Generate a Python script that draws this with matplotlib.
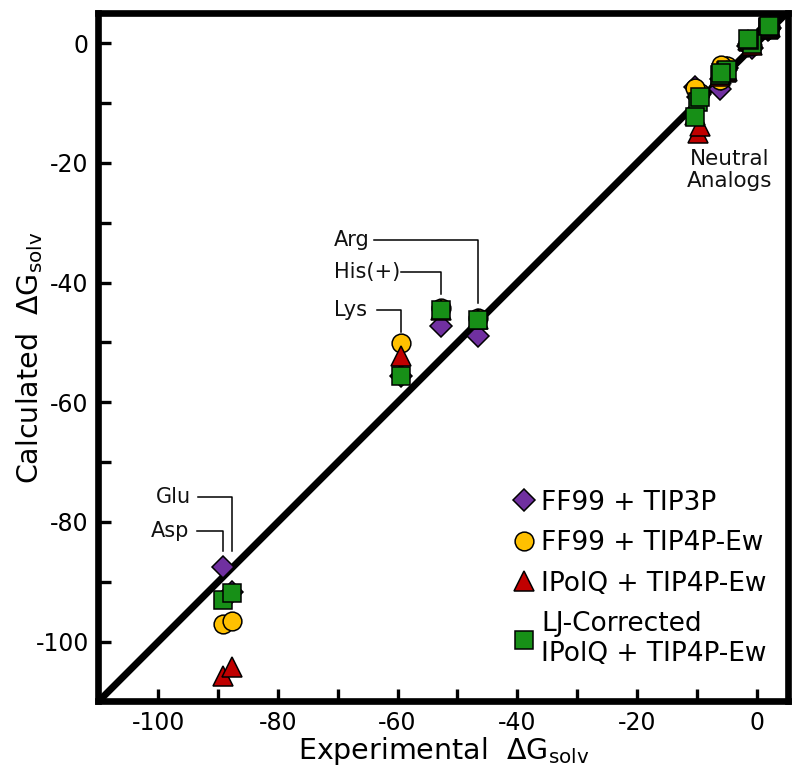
import matplotlib
matplotlib.use('Agg')
import matplotlib.pyplot as plt
from matplotlib.ticker import MultipleLocator, FuncFormatter
from matplotlib.lines import Line2D

plt.rcParams['font.family'] = ['DejaVu Sans']
plt.rcParams['axes.unicode_minus'] = False

# side-chain analogs, experimental vs calculated solvation free energies
residues = ['Ala', 'Val', 'Leu', 'Ile', 'Phe', 'Cys', 'Met', 'Ser', 'Thr', 'Tyr',
            'Trp', 'Asn', 'Gln', 'His', 'Asp', 'Glu', 'Lys', 'His(+)', 'Arg']
experimental = [1.94, 1.99, 2.28, 2.15, -0.76, -1.24, -1.48, -5.06, -4.88, -6.11,
                -5.88, -9.72, -9.38, -10.27, -89.2, -87.7, -59.5, -52.7, -46.5]
ff99_tip3p = [2.2, 2.3, 2.5, 2.4, -0.8, -0.2, -0.5, -4.4, -4.2, -7.6,
              -6.0, -9.0, -8.5, -7.3, -87.6, -91.7, -55.6, -47.3, -49.0]
ff99_tip4pew = [2.4, 2.5, 2.7, 2.6, -0.5, 0.3, 0.1, -4.0, -3.8, -6.2,
                -3.6, -8.8, -8.3, -7.5, -97.0, -96.5, -50.1, -44.3, -46.0]
ipolq_tip4pew = [2.4, 2.5, 2.7, 2.6, -0.3, 0.3, 0.5, -4.8, -4.6, -5.5,
                 -5.2, -15.0, -13.9, -12.0, -105.8, -104.3, -52.3, -44.6, -46.1]
ljcorr_ipolq = [2.6, 2.7, 2.9, 2.8, -0.2, 0.5, 0.7, -4.6, -4.5, -5.3,
                -5.0, -9.8, -9.0, -12.3, -93.0, -91.8, -55.6, -44.6, -46.3]

series_labels = ['FF99 + TIP3P', 'FF99 + TIP4P-Ew', 'IPolQ + TIP4P-Ew',
                 'LJ-Corrected\nIPolQ + TIP4P-Ew']

# callouts: residue, text position, alignment, where the leader starts, where it stops
callout_res = ['Arg', 'His(+)', 'Lys', 'Glu', 'Asp']
callout_xy = [(-70.6, -32.9), (-70.6, -38.3), (-70.6, -44.5), (-94.6, -75.8), (-94.9, -81.5)]
callout_ha = ['left', 'left', 'left', 'right', 'right']
callout_x0 = [-64.0, -59.4, -63.4, -93.3, -93.6]
callout_yend = [-43.4, -41.9, -48.2, -84.8, -84.8]

styles = [
    dict(marker='D', color='#7030a0', ms=11.5),
    dict(marker='o', color='#ffc000', ms=13.5),
    dict(marker='^', color='#c00000', ms=15),
    dict(marker='s', color='#178f17', ms=13),
]

fig = plt.figure(figsize=(8, 7.77), dpi=100)
ax = fig.add_axes([0.1231, 0.0972, 0.8619, 0.8857])

ax.axline((0, 0), slope=1, color='black', lw=5, zorder=1)

for vals, st in zip([ff99_tip3p, ff99_tip4pew, ipolq_tip4pew, ljcorr_ipolq], styles):
    ax.plot(experimental, vals, ls='none', marker=st['marker'], ms=st['ms'],
            mfc=st['color'], mec='black', mew=1.1, zorder=3)

for name, (tx, ty), ha, x0, yend in zip(callout_res, callout_xy, callout_ha,
                                        callout_x0, callout_yend):
    xr = experimental[residues.index(name)]
    ax.text(tx, ty, name, fontsize=15, ha=ha, va='center', color='#111111')
    ax.plot([x0, xr, xr], [ty, ty, yend], color='black', lw=1.1, zorder=2)

ax.text(-4.5, -21.2, 'Neutral\nAnalogs', fontsize=15.5, ha='center', va='center',
        linespacing=1.1, color='#111111')

ax.set_xlim(-110, 5.25)
ax.set_ylim(-110, 5)

fmt = FuncFormatter(lambda v, p: '%d' % v if round(v) % 20 == 0 else '')
for axis in (ax.xaxis, ax.yaxis):
    axis.set_major_locator(MultipleLocator(10))
    axis.set_major_formatter(fmt)
ax.tick_params(direction='in', length=9, width=2.4, labelsize=17, pad=7,
               top=False, right=False)
for sp in ax.spines.values():
    sp.set_linewidth(4.8)

ax.set_xlabel('Experimental  ΔG$_{\\mathrm{solv}}$', fontsize=20.5, labelpad=0)
ax.set_ylabel('Calculated  ΔG$_{\\mathrm{solv}}$', fontsize=20.5)
ax.yaxis.set_label_coords(-0.077, 0.5)

handles = [Line2D([], [], ls='none', marker=st['marker'], ms=st['ms'],
                  mfc=st['color'], mec='black', mew=1.1) for st in styles]
ax.legend(handles, series_labels, loc='upper left', bbox_to_anchor=(0.598, 0.308),
          frameon=False, fontsize=19, borderpad=0, borderaxespad=0,
          handlelength=1.0, handletextpad=0.15, labelspacing=0.55)

fig.savefig('out.png', dpi=100)
